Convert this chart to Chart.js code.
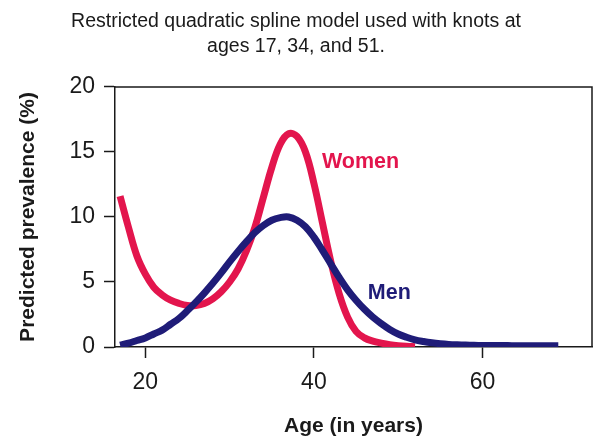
<!DOCTYPE html>
<html>
<head>
<meta charset="utf-8">
<script src="https://cdn.jsdelivr.net/npm/chart.js@4.4.1/dist/chart.umd.min.js"></script>
<style>
  html, body { margin: 0; padding: 0; background: #fff; }
  #wrap { width: 598px; height: 437px; position: relative; }
</style>
</head>
<body>
<div id="wrap"><canvas id="chart"></canvas></div>
<script>
// Ages (years) and predicted prevalence (%)
const ages = [17, 18, 19, 20, 21, 22, 23, 24, 25, 26, 27, 28, 29, 30, 31, 32, 33, 34, 35, 36,
              37, 38, 39, 40, 41, 42, 43, 44, 45, 46, 47, 48, 49, 50, 51, 52, 53, 54, 55, 56,
              57, 58, 59, 60, 61, 62, 63, 64, 65, 66, 67, 68, 69];
const women = [11.6, 9.2, 7.0, 5.6, 4.6, 4.0, 3.6, 3.35, 3.2, 3.2, 3.35, 3.7, 4.25, 5.0, 6.0, 7.4,
               9.2, 11.5, 13.8, 15.6, 16.4, 16.2, 15.0, 12.6, 9.6, 6.6, 4.1, 2.3, 1.2, 0.7,
               0.45, 0.3, 0.18, 0.1, 0.05, 0.02];
const men = [0.15, 0.3, 0.5, 0.7, 1.0, 1.3, 1.75, 2.2, 2.8, 3.45, 4.15, 4.9, 5.7, 6.55, 7.35, 8.1,
             8.8, 9.35, 9.75, 9.95, 10.0, 9.75, 9.25, 8.45, 7.45, 6.4, 5.35, 4.4, 3.6, 2.9, 2.3,
             1.8, 1.35, 1.0, 0.75, 0.55, 0.42, 0.32, 0.25, 0.2, 0.17, 0.15, 0.13, 0.12, 0.12,
             0.11, 0.11, 0.1, 0.1, 0.1, 0.1, 0.1, 0.1];
const xTicks = [20, 40, 60];

// series names written inside the plot: [text, age, prevalence, colour]
const seriesLabels = [
  ['Women', 40.95, 14.2, '#e3154d'],
  ['Men',   46.4,  4.15, '#1f1c78']
];

const FONT = 'Liberation Sans, Arial, Helvetica, sans-serif';
const INK = '#1a1a1a';

const toPoints = vals => vals.map((v, i) => ({ x: ages[i], y: v }));

// top and right frame lines + in-plot series names
const framePlugin = {
  id: 'frame',
  afterDraw(chart) {
    const { ctx, chartArea: a, scales } = chart;
    ctx.save();
    ctx.strokeStyle = INK;
    ctx.lineWidth = 1.5;
    ctx.beginPath();
    ctx.moveTo(a.left, a.top);
    ctx.lineTo(a.right, a.top);
    ctx.lineTo(a.right, a.bottom);
    ctx.stroke();

    ctx.font = 'bold 21.5px ' + FONT;
    ctx.textAlign = 'left';
    ctx.textBaseline = 'middle';
    seriesLabels.forEach(([txt, ax, ay, col]) => {
      ctx.fillStyle = col;
      ctx.fillText(txt, scales.x.getPixelForValue(ax), scales.y.getPixelForValue(ay));
    });
    ctx.restore();
  }
};

new Chart(document.getElementById('chart').getContext('2d'), {
  type: 'line',
  data: {
    datasets: [
      {
        label: 'Men',
        data: toPoints(men),
        borderColor: '#1f1c78',
        borderWidth: 7,
        pointRadius: 0,
        tension: 0.4,
        borderCapStyle: 'butt'
      },
      {
        label: 'Women',
        data: toPoints(women),
        borderColor: '#e3154d',
        borderWidth: 7,
        pointRadius: 0,
        tension: 0.4,
        borderCapStyle: 'butt'
      }
    ]
  },
  options: {
    responsive: true,
    maintainAspectRatio: false,
    animation: false,
    layout: { padding: { left: 0, right: 6, top: 0, bottom: 0 } },
    plugins: {
      legend: { display: false },
      tooltip: { enabled: false },
      title: {
        display: true,
        text: ['Restricted quadratic spline model used with knots at', 'ages 17, 34, and 51.'],
        color: INK,
        font: { family: FONT, size: 19.5, weight: 'normal', lineHeight: 1.282 },
        padding: { top: 9.5, bottom: 27.5 }
      }
    },
    scales: {
      x: {
        type: 'linear',
        min: 16.4,
        max: 73,
        afterBuildTicks: s => { s.ticks = xTicks.map(v => ({ value: v })); },
        afterFit: s => { s.height = 90; },
        ticks: { color: INK, font: { family: FONT, size: 23 }, padding: 11, maxRotation: 0 },
        grid: { drawOnChartArea: false, tickLength: 11, tickColor: INK, tickWidth: 1.5 },
        border: { display: true, color: INK, width: 1.5 },
        title: {
          display: true,
          text: 'Age (in years)',
          color: INK,
          font: { family: FONT, size: 21, weight: 'bold' },
          padding: { top: 0, bottom: -2 }
        }
      },
      y: {
        min: 0,
        max: 20,
        ticks: { stepSize: 5, color: INK, font: { family: FONT, size: 23 }, padding: 9 },
        afterFit: s => { s.width = 115; },
        grid: { drawOnChartArea: false, tickLength: 11, tickColor: INK, tickWidth: 1.5 },
        border: { display: true, color: INK, width: 1.5 },
        title: {
          display: true,
          text: 'Predicted prevalence (%)',
          color: INK,
          font: { family: FONT, size: 21, weight: 'bold' },
          padding: { top: 16, bottom: 0 }
        }
      }
    }
  },
  plugins: [framePlugin]
});
</script>
</body>
</html>
